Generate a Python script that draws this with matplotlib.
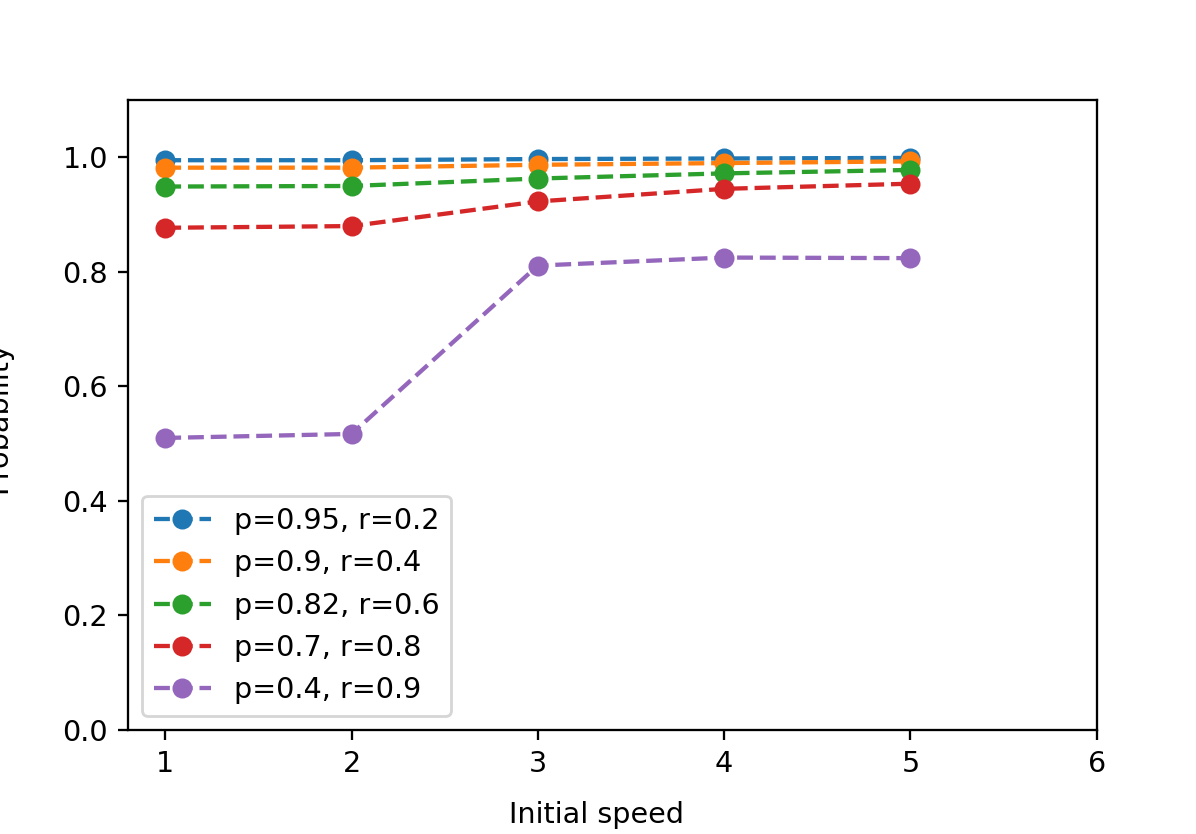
import matplotlib
matplotlib.use('Agg')
import matplotlib.pyplot as plt

# data
speeds = [1, 2, 3, 4, 5]
labels = ['p=0.95, r=0.2', 'p=0.9, r=0.4', 'p=0.82, r=0.6',
          'p=0.7, r=0.8', 'p=0.4, r=0.9']
prob_095 = [0.995, 0.995, 0.997, 0.998, 0.999]
prob_09 = [0.982, 0.982, 0.987, 0.990, 0.993]
prob_082 = [0.949, 0.950, 0.963, 0.972, 0.978]
prob_07 = [0.877, 0.880, 0.923, 0.945, 0.954]
prob_04 = [0.510, 0.517, 0.811, 0.825, 0.824]

series = [prob_095, prob_09, prob_082, prob_07, prob_04]

dpi = 206
fig = plt.figure(figsize=(1196 / dpi, 834 / dpi), dpi=dpi)
ax = fig.add_axes([0.107, 0.1247, 0.810, 0.880 - 0.1247])

for vals, lab in zip(series, labels):
    ax.plot(speeds, vals, 'o--', label=lab)

ax.set_xlim(0.8, 6)
ax.set_ylim(0, 1.1)
ax.set_xticks([1, 2, 3, 4, 5, 6])
ax.set_yticks([0.0, 0.2, 0.4, 0.6, 0.8, 1.0])
ax.legend(loc='lower left')

# axis labels placed on the figure (ylabel partly cut off like the original)
fig.text(0.499, 0.023, 'Initial speed', ha='center', va='center')
fig.text(12 / 1196, 0.5, 'Probability', rotation=90, ha='right', va='center')

fig.savefig('out.png', dpi=dpi)
